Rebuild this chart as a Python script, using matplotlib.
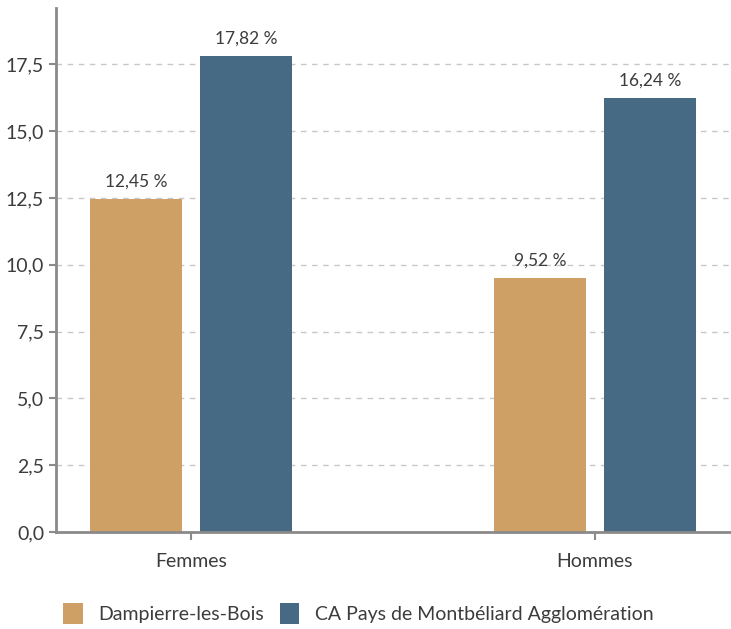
import numpy as np
import matplotlib.pyplot as plt
from matplotlib.patches import Patch

plt.rcParams['font.family'] = ['Lato', 'DejaVu Sans']

categories = ['Femmes', 'Hommes']
series_names = ['Dampierre-les-Bois', 'CA Pays de Montbéliard Agglomération']
dampierre = [12.45, 9.52]
ca_pays = [17.82, 16.24]
yticks = [0.0, 2.5, 5.0, 7.5, 10.0, 12.5, 15.0, 17.5]

colors = ['#cfa066', '#466a84']
text_col = '#3c3c3c'
axis_col = '#8a8a8a'

fig = plt.figure(figsize=(7.31, 6.29), dpi=100)
ax = fig.add_axes([0.0766, 0.154, 0.9234, 0.833])

x = np.arange(len(categories))
w = 0.228
off = 0.136
for vals, dx, c in [(dampierre, -off, colors[0]), (ca_pays, off, colors[1])]:
    bars = ax.bar(x + dx, vals, width=w, color=c, zorder=3)
    for b, v in zip(bars, vals):
        ax.text(b.get_x() + b.get_width() / 2, v + 0.35,
                '{:.2f} %'.format(v).replace('.', ','),
                ha='center', va='bottom', fontsize=12.5, color=text_col)

ax.set_xlim(-0.334, 1.337)
ax.set_ylim(0, 19.6)
ax.set_yticks(yticks)
ax.set_yticklabels(['{:.1f}'.format(t).replace('.', ',') for t in yticks])
ax.set_xticks(x)
ax.set_xticklabels(categories)

ax.grid(axis='y', linestyle=(0, (4, 4)), color='#c8c8c8', linewidth=1, zorder=0)
for s in ['top', 'right']:
    ax.spines[s].set_visible(False)
ax.spines['left'].set_color(axis_col)
ax.spines['left'].set_linewidth(2)
ax.spines['bottom'].set_color(axis_col)
ax.spines['bottom'].set_linewidth(2)
ax.spines['bottom'].set_zorder(4)

ax.tick_params(axis='y', colors=axis_col, labelcolor=text_col, labelsize=14, length=5, width=1.5)
ax.tick_params(axis='x', colors=axis_col, labelcolor=text_col, labelsize=14, length=6, width=1.5, pad=9)

handles = [Patch(facecolor=colors[0]), Patch(facecolor=colors[1])]
fig.legend(handles, series_names, loc='center', bbox_to_anchor=(0.49, 0.025),
           ncol=2, frameon=False, prop={'size': 14},
           handlelength=1.0, handleheight=1.3,
           columnspacing=0.8, handletextpad=0.8, labelcolor=text_col)

fig.savefig('out.png', dpi=100)
